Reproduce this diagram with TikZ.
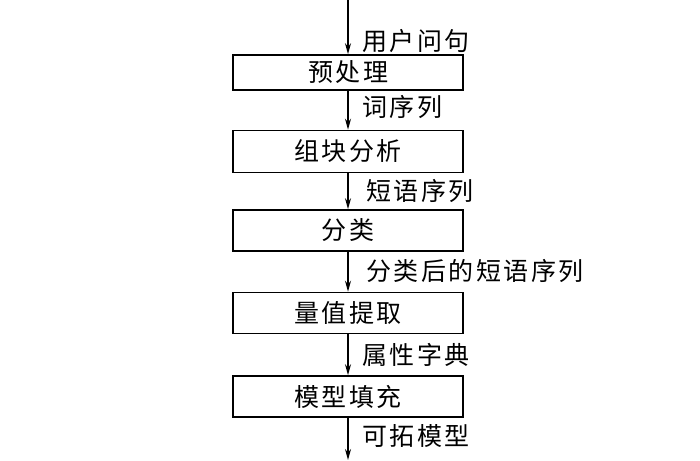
\documentclass[tikz,border=0pt]{standalone}
\usepackage{fontspec}
\setmainfont{Noto Sans CJK SC}[LetterSpace=10]
\usetikzlibrary{arrows.meta}

\begin{document}
\begin{tikzpicture}[x=1pt,y=-1pt,
    stage/.style={draw,line width=1.6pt,minimum width=230pt,inner sep=0pt,font=\fontsize{25}{28}\selectfont},
    flow/.style={line width=1.4pt,-{Stealth[length=11pt,width=6pt]}},
    lbl/.style={anchor=west,inner sep=0pt,font=\fontsize{25}{28}\selectfont}]
        \useasboundingbox (0,0) rectangle (700,460);
        % stages
        \node[stage,minimum height=35pt] (pre) at (348,72.5) {预处理};
        \node[stage,minimum height=42pt] (chunk) at (348,151.5) {组块分析};
        \node[stage,minimum height=41pt] (cls) at (348,230.5) {分类};
        \node[stage,minimum height=41pt] (val) at (348,313) {量值提取};
        \node[stage,minimum height=41pt] (fill) at (348,396.5) {模型填充};
        \coordinate (in) at (348,0);
        \coordinate (out) at (348,460);
        % connectors
        \draw[flow] (in) -- (pre);
        \draw[flow] (pre) -- (chunk);
        \draw[flow] (chunk) -- (cls);
        \draw[flow] (cls) -- (val);
        \draw[flow] (val) -- (fill);
        \draw[flow] (fill) -- (out);
        % labels
        \node[lbl] (query) at (362,41) {用户问句};
        \node[lbl] (words) at (362,107) {词序列};
        \node[lbl] (phr) at (366,191) {短语序列};
        \node[lbl] (clsphr) at (366,271) {分类后的短语序列};
        \node[lbl] (dict) at (362,355) {属性字典};
        \node[lbl] (model) at (362,436) {可拓模型};
\end{tikzpicture}
\end{document}
